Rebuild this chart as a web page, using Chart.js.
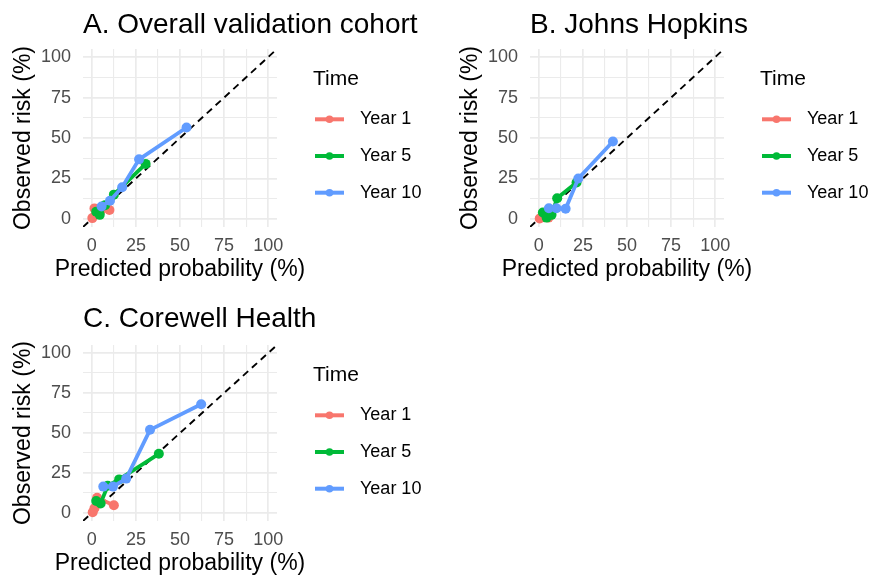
<!DOCTYPE html>
<html lang="en">
<head>
<meta charset="UTF-8">
<title>Calibration plots</title>
<style>
  html, body { margin: 0; padding: 0; background: #fff; overflow: hidden; }
  body { width: 875px; height: 580px; position: relative; }
  canvas { position: absolute; }
</style>
</head>
<body>
<canvas id="panelA" width="440" height="290" style="left:0px;top:0px"></canvas>
<canvas id="panelB" width="428" height="290" style="left:447px;top:0px"></canvas>
<canvas id="panelC" width="440" height="290" style="left:0px;top:294px"></canvas>

<script src="https://cdn.jsdelivr.net/npm/chart.js"></script>
<script>
// values, all in %
const timeLabels = ['Year 1', 'Year 5', 'Year 10'];
const timeColors = ['#F8766D', '#00BA38', '#619CFF'];
const tickValues = [0, 25, 50, 75, 100];
const gridValues = [0, 12.5, 25, 37.5, 50, 62.5, 75, 87.5, 100];
const axisLimits = [-5, 105];

// A. Overall validation cohort
const overallPred1 = [0.3, 1.5, 5, 10];
const overallObs1  = [0.5, 6.5, 5, 5.5];
const overallPred5 = [2.5, 4.5, 7.5, 12.5, 30.5];
const overallObs5  = [4.5, 2.5, 8.5, 15, 34];
const overallPred10 = [5.5, 10.3, 17.2, 26.8, 53.7];
const overallObs10  = [7.7, 11.2, 19.6, 36.8, 56.5];

// B. Johns Hopkins
const hopkinsPred1 = [0.5, 3, 5.5];
const hopkinsObs1  = [0.3, 1, 0.8];
const hopkinsPred5 = [2.3, 4.4, 7.2, 10.4, 21.4];
const hopkinsObs5  = [4, 0.8, 2.5, 12.8, 22.5];
const hopkinsPred10 = [5.7, 10, 15.2, 22.4, 42];
const hopkinsObs10  = [6.6, 6.6, 6.3, 25, 47.8];

// C. Corewell Health
const corewellPred1 = [0.5, 1.5, 3, 12.5];
const corewellObs1  = [0.5, 3, 9.5, 4.8];
const corewellPred5 = [2.5, 5, 9, 15.5, 38];
const corewellObs5  = [7.5, 6, 17, 21, 37];
const corewellPred10 = [6.5, 12, 19.5, 33, 62];
const corewellObs10  = [16.5, 16.5, 21.5, 52, 68];

const fontFamily = "'Liberation Sans', Arial, sans-serif";
Chart.defaults.font.family = fontFamily;

function points(xs, ys) {
  return xs.map((x, i) => ({ x: x, y: ys[i] }));
}

// panel title, axis titles and the "Time" legend, placed like ggplot does
function decor(title) {
  return {
    id: 'decor',
    afterDraw(chart) {
      const ctx = chart.ctx;
      const ca = chart.chartArea;
      ctx.save();
      ctx.textBaseline = 'middle';
      ctx.textAlign = 'left';
      ctx.fillStyle = '#000';
      ctx.font = '28px ' + fontFamily;
      ctx.fillText(title, ca.left, 25);

      ctx.font = '23px ' + fontFamily;
      ctx.textAlign = 'center';
      ctx.fillText('Predicted probability (%)', (ca.left + ca.right) / 2, ca.bottom + 42.5);
      ctx.save();
      ctx.translate(23.5, (ca.top + ca.bottom) / 2);
      ctx.rotate(-Math.PI / 2);
      ctx.fillText('Observed risk (%)', 0, 0);
      ctx.restore();

      ctx.textAlign = 'left';
      ctx.font = '21px ' + fontFamily;
      ctx.fillText('Time', ca.right + 36, ca.top + 30);
      let k = 0;
      chart.data.datasets.forEach(ds => {
        if (!ds.label) return;
        const y = ca.top + 70.3 + k * 36.7;
        ctx.strokeStyle = ds.borderColor;
        ctx.lineWidth = 4;
        ctx.beginPath();
        ctx.moveTo(ca.right + 38, y);
        ctx.lineTo(ca.right + 67, y);
        ctx.stroke();
        ctx.fillStyle = ds.borderColor;
        ctx.beginPath();
        ctx.arc(ca.right + 52.5, y, 3.8, 0, Math.PI * 2);
        ctx.fill();
        ctx.fillStyle = '#000';
        ctx.font = '18px ' + fontFamily;
        ctx.fillText(ds.label, ca.right + 83, y);
        k++;
      });
      ctx.restore();
    }
  };
}

function axis(isX) {
  return {
    type: 'linear',
    min: axisLimits[0],
    max: axisLimits[1],
    afterBuildTicks: s => { s.ticks = gridValues.map(v => ({ value: v })); },
    afterFit: s => { if (isX) s.height = 63; else s.width = 83; },
    border: { display: false },
    grid: {
      color: '#EBEBEB',
      drawTicks: false,
      lineWidth: c => (tickValues.includes(c.tick.value) ? 1.7 : 1.1)
    },
    ticks: {
      autoSkip: false,
      maxRotation: 0,
      color: '#4D4D4D',
      font: { size: 18 },
      padding: isX ? 8 : 12,
      callback: v => (tickValues.includes(v) ? String(v) : '')
    }
  };
}

function makePanel(id, title, series, pad) {
  const datasets = series.map((s, i) => ({
    label: timeLabels[i],
    data: points(s[0], s[1]),
    showLine: true,
    borderColor: timeColors[i],
    backgroundColor: timeColors[i],
    pointBackgroundColor: timeColors[i],
    borderWidth: 3.8,
    pointRadius: 5,
    pointBorderWidth: 0,
    order: 3 - i
  }));
  datasets.push({
    label: '',
    data: points(axisLimits, axisLimits),
    showLine: true,
    borderColor: '#000',
    borderWidth: 1.9,
    borderDash: [7, 5],
    pointRadius: 0,
    order: 10
  });

  new Chart(document.getElementById(id), {
    type: 'scatter',
    data: { datasets: datasets },
    options: {
      responsive: false,
      animation: false,
      devicePixelRatio: 1,
      layout: { padding: pad },
      plugins: { legend: { display: false }, tooltip: { enabled: false } },
      scales: { x: axis(true), y: axis(false) }
    },
    plugins: [decor(title)]
  });
}

makePanel('panelA', 'A. Overall validation cohort', [
  [overallPred1, overallObs1],
  [overallPred5, overallObs5],
  [overallPred10, overallObs10]
], { top: 49, right: 163, left: 0, bottom: 0 });

makePanel('panelB', 'B. Johns Hopkins', [
  [hopkinsPred1, hopkinsObs1],
  [hopkinsPred5, hopkinsObs5],
  [hopkinsPred10, hopkinsObs10]
], { top: 49, right: 151, left: 0, bottom: 0 });

makePanel('panelC', 'C. Corewell Health', [
  [corewellPred1, corewellObs1],
  [corewellPred5, corewellObs5],
  [corewellPred10, corewellObs10]
], { top: 51, right: 163, left: 0, bottom: 0 });
</script>
</body>
</html>
